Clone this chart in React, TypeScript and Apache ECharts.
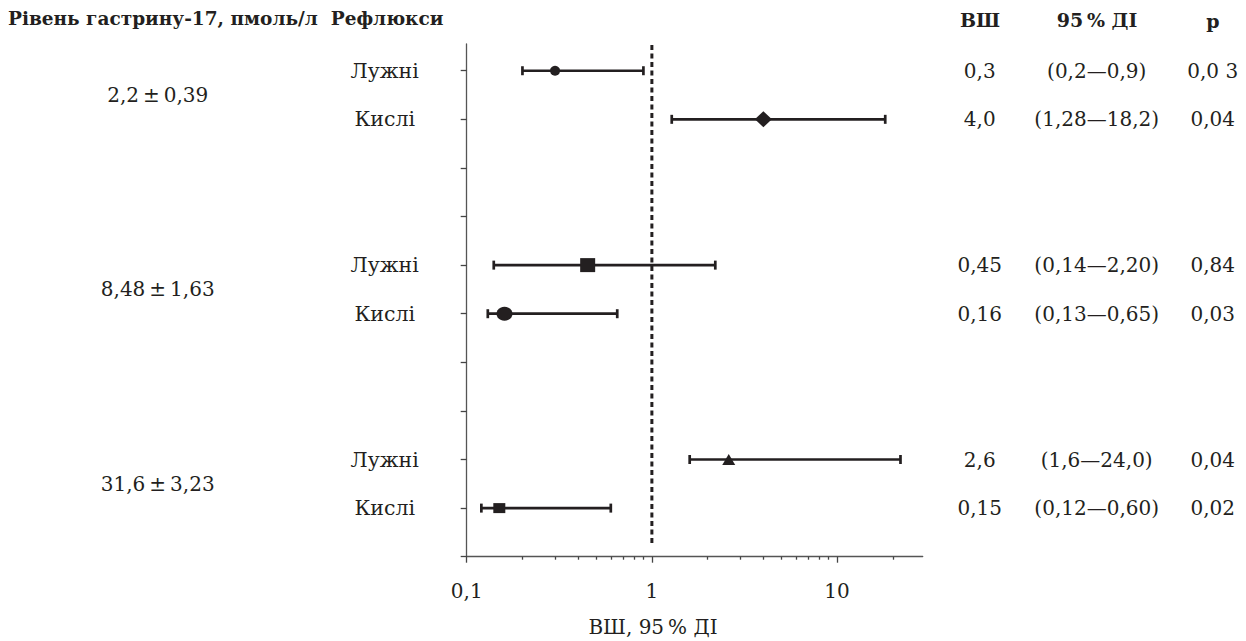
import React, { useEffect, useRef } from 'react';
import * as echarts from 'echarts';

const rowLabels = ['Лужні', 'Кислі', '', '', 'Лужні', 'Кислі', '', '', 'Лужні', 'Кислі'];
const groupLabels = ['2,2\u2009±\u20090,39', '8,48\u2009±\u20091,63', '31,6\u2009±\u20093,23'];
const groupRows = [1.5, 5.5, 9.5];
const pointRows = [1, 2, 5, 6, 9, 10];
const orValues = [0.3, 4.0, 0.45, 0.16, 2.6, 0.15];
const ciLow = [0.2, 1.28, 0.14, 0.13, 1.6, 0.12];
const ciHigh = [0.9, 18.2, 2.2, 0.65, 22, 0.6];
const orText = ['0,3', '4,0', '0,45', '0,16', '2,6', '0,15'];
const ciText = ['(0,2—0,9)', '(1,28—18,2)', '(0,14—2,20)', '(0,13—0,65)', '(1,6—24,0)', '(0,12—0,60)'];
const pText = ['0,0 3', '0,04', '0,84', '0,03', '0,04', '0,02'];
const rowTicks = [1, 2, 3, 4, 5, 6, 7, 8, 9, 10, 11];
const xMajorTicks = [0.1, 1, 10];
const xMinorTicks = [0.2, 0.3, 0.4, 0.5, 0.6, 0.7, 0.8, 0.9, 2, 3, 4, 5, 6, 7, 8, 9, 20];
const refLineX = 1;
const refLineRows = [0.47, 10.72];
const markerSymbols = ['circle', 'diamond', 'rect', 'circle', 'triangle', 'rect'];
const markerSizes = [[10, 10], [17, 16], [15, 14], [16, 14], [13, 11], [12, 10]];

const FONT = 'DejaVu Serif';
const INK = '#231f20';

export default function App() {
  const ref = useRef<HTMLDivElement>(null);
  useEffect(() => {
    const chart = echarts.init(ref.current!, undefined, { renderer: 'svg' });
    const textBase = { fontFamily: FONT, color: INK, fontSize: 20 };
    const fmt = (arr: string[]) => (v: number) => {
      const i = pointRows.indexOf(Math.round(v));
      return i >= 0 ? arr[i] : '';
    };
    const rightAxis = (arr: string[], margin: number) => ({
      type: 'value',
      position: 'right',
      inverse: true,
      min: 0.45,
      max: 11,
      axisLine: { show: false },
      axisTick: { show: false },
      splitLine: { show: false },
      axisLabel: {
        customValues: pointRows,
        formatter: fmt(arr),
        align: 'center',
        margin,
        ...textBase,
      },
    });
    chart.setOption({
      animation: false,
      backgroundColor: '#fff',
      grid: { left: 466.7, right: 323.3, top: 44, bottom: 84.3 },
      xAxis: [
        {
          type: 'log',
          logBase: 10,
          min: 0.1,
          max: 29,
          axisLine: { lineStyle: { color: '#555', width: 1.3 } },
          axisTick: { customValues: xMajorTicks, length: 6, lineStyle: { color: '#444', width: 1.3 } },
          axisLabel: {
            customValues: xMajorTicks,
            formatter: (v: number) => String(v).replace('.', ','),
            margin: 24,
            ...textBase,
          },
          splitLine: { show: false },
        },
        {
          type: 'log',
          logBase: 10,
          min: 0.1,
          max: 29,
          position: 'bottom',
          axisLine: { show: false },
          axisTick: { customValues: xMinorTicks, length: 3, lineStyle: { color: '#444', width: 1.3 } },
          axisLabel: { show: false },
          splitLine: { show: false },
        },
      ],
      yAxis: [
        {
          type: 'value',
          inverse: true,
          min: 0.45,
          max: 11,
          axisLine: { show: true, lineStyle: { color: '#555', width: 1.3 } },
          axisTick: { show: true, customValues: rowTicks, length: 6, lineStyle: { color: '#444', width: 1.3 } },
          axisLabel: {
            customValues: pointRows,
            formatter: (v: number) => rowLabels[Math.round(v) - 1] || '',
            align: 'center',
            margin: 82,
            ...textBase,
            fontSize: 20.5,
          },
          splitLine: { show: false },
        },
        {
          type: 'value',
          position: 'left',
          inverse: true,
          min: 0.45,
          max: 11,
          axisLine: { show: false },
          axisTick: { show: false },
          splitLine: { show: false },
          axisLabel: {
            customValues: groupRows,
            formatter: (v: number) => groupLabels[groupRows.indexOf(v)] || '',
            align: 'center',
            margin: 309,
            ...textBase,
          },
        },
        rightAxis(orText, 57),
        rightAxis(ciText, 174),
        rightAxis(pText, 290),
      ],
      series: [
        {
          type: 'line',
          data: refLineRows.map((r) => [refLineX, r]),
          symbol: 'none',
          lineStyle: { color: INK, width: 3, type: [5, 3.5] },
          silent: true,
        },
        {
          type: 'custom',
          data: pointRows.map((r, i) => [ciLow[i], ciHigh[i], r]),
          renderItem: (params: any, api: any) => {
            const a = api.coord([api.value(0), api.value(2)]);
            const b = api.coord([api.value(1), api.value(2)]);
            const h = 4.5;
            const st = { stroke: INK, lineWidth: 2.7 };
            return {
              type: 'group',
              children: [
                { type: 'line', shape: { x1: a[0], y1: a[1], x2: b[0], y2: b[1] }, style: st },
                { type: 'line', shape: { x1: a[0], y1: a[1] - h, x2: a[0], y2: a[1] + h }, style: st },
                { type: 'line', shape: { x1: b[0], y1: b[1] - h, x2: b[0], y2: b[1] + h }, style: st },
              ],
            };
          },
          silent: true,
        },
        {
          type: 'scatter',
          data: pointRows.map((r, i) => ({
            value: [orValues[i], r],
            symbol: markerSymbols[i],
            symbolSize: markerSizes[i],
          })),
          itemStyle: { color: INK, opacity: 1 },
          silent: true,
        },
      ],
      graphic: [
        {
          type: 'text',
          left: 8,
          top: 9,
          style: { text: 'Рівень гастрину-17, пмоль/л  Рефлюкси', font: `bold 18.5px "${FONT}"`, fill: INK },
        },
        {
          type: 'text',
          x: 980,
          y: 20,
          style: { text: 'ВШ', font: `bold 19px "${FONT}"`, fill: INK, align: 'center', verticalAlign: 'middle' },
        },
        {
          type: 'text',
          x: 1097,
          y: 20,
          style: { text: '95\u2009% ДІ', font: `bold 19px "${FONT}"`, fill: INK, align: 'center', verticalAlign: 'middle' },
        },
        {
          type: 'text',
          x: 1213,
          y: 21,
          style: { text: 'p', font: `bold 19px "${FONT}"`, fill: INK, align: 'center', verticalAlign: 'middle' },
        },
        {
          type: 'text',
          x: 653,
          y: 627,
          style: { text: 'ВШ, 95\u2009% ДІ', font: `20px "${FONT}"`, fill: INK, align: 'center', verticalAlign: 'middle' },
        },
      ],
    });
    return () => chart.dispose();
  }, []);
  return <div ref={ref} style={{ position: 'fixed', left: 0, top: 0, width: 1246, height: 641 }} />;
}
